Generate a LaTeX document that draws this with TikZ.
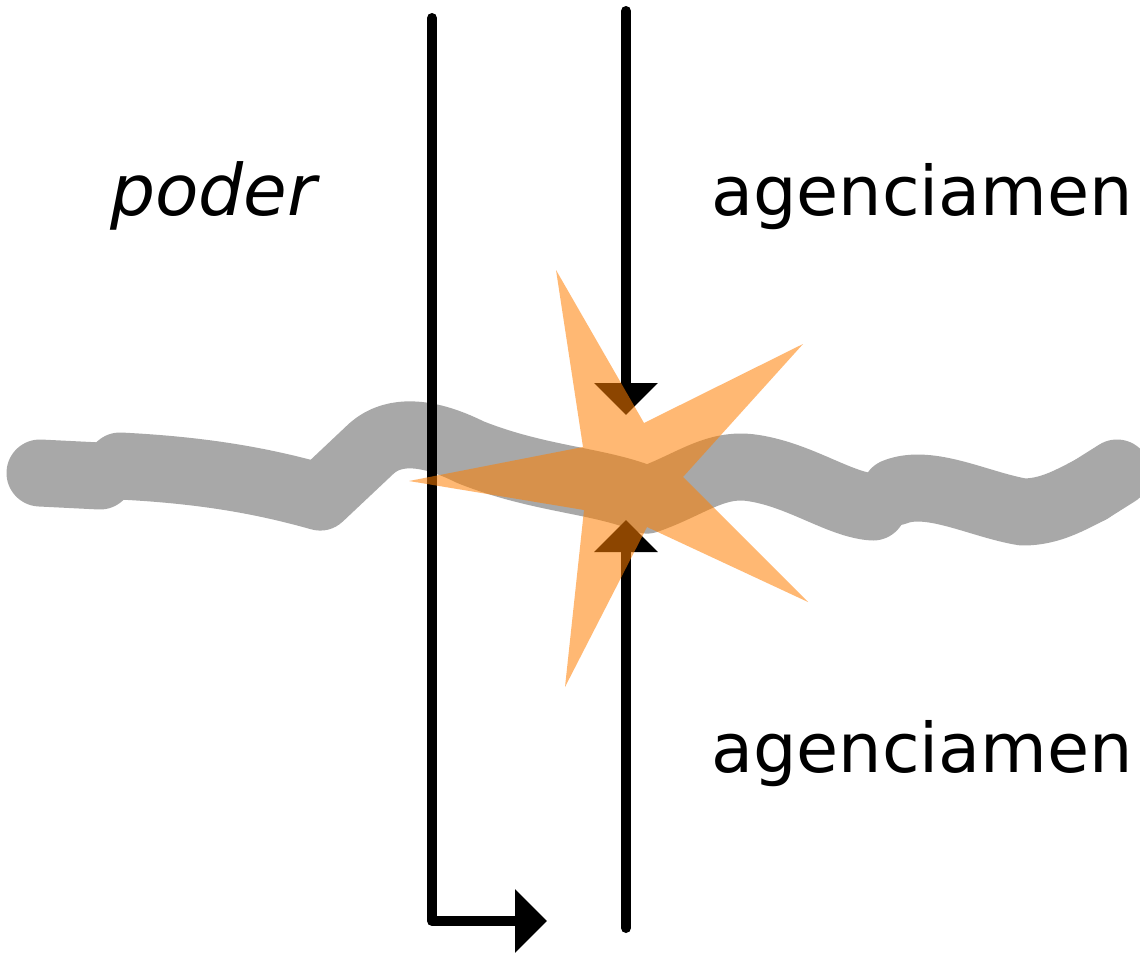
\documentclass[tikz,border=0pt]{standalone}
\usepackage{fontspec}
\setmainfont{DejaVu Sans}
\usetikzlibrary{arrows.meta}
\definecolor{linegray}{RGB}{168,168,168}
\definecolor{starorange}{RGB}{255,127,0}
\tikzset{
  road/.style={line width=67pt, draw=linegray, line cap=round, line join=round},
  bar/.style={line width=10pt, draw=black, line cap=round, line join=round},
  headtip/.style={-{Triangle[length=32pt,width=62pt]}},
  lbl/.style={inner sep=0pt, anchor=base west, font=\fontsize{68.5}{82}\selectfont},
  poderlbl/.style={inner sep=0pt, anchor=base west, font=\fontsize{71}{84}\selectfont\itshape},
  burst/.style={fill=starorange, fill opacity=0.55, draw=none}
}
\begin{document}
\begin{tikzpicture}[x=1pt,y=-1pt]
\useasboundingbox[fill=white] (0,0) rectangle (1140,956);
% gray wavy band
\draw[road] (40,473) -- (100,476);
\draw[road] (120,466) .. controls (200,470) and (260,480) .. (320,497)
  -- (372,448) .. controls (395,428) and (430,432) .. (470,452)
  .. controls (540,480) and (600,480) .. (647,500)
  .. controls (690,485) and (715,462) .. (753,468)
  .. controls (800,475) and (840,505) .. (873,507);
\draw[road] (895,492) .. controls (930,478) and (980,505) .. (1023,512)
  .. controls (1050,512) and (1070,500) .. (1090,490);
\draw[road] (1090,490) -- (1117,473);
% labels
\node[poderlbl] (poder) at (110,215) {poder};
\node[lbl] (agtop) at (711,215) {agenciamen};
\node[lbl] (agbot) at (711,772) {agenciamen};
% lines
\coordinate (ltop) at (432,18);
\coordinate (lcorner) at (432,921);
\coordinate (lend) at (547,921);
\coordinate (rtop) at (626,11);
\coordinate (rtip) at (626,415);
\coordinate (rbot) at (626,928);
\coordinate (rtipb) at (626,520);
\draw[bar,headtip] (ltop) -- (lcorner) -- (lend);
\draw[bar,headtip] (rtop) -- (rtip);
\draw[bar,headtip] (rbot) -- (rtipb);
% star
\path[burst] (556,270) -- (644,423) -- (803,344) -- (683,477) -- (808,602)
  -- (647,527) -- (565,687) -- (584,510) -- (409,481) -- (583,447) -- cycle;
\end{tikzpicture}
\end{document}
